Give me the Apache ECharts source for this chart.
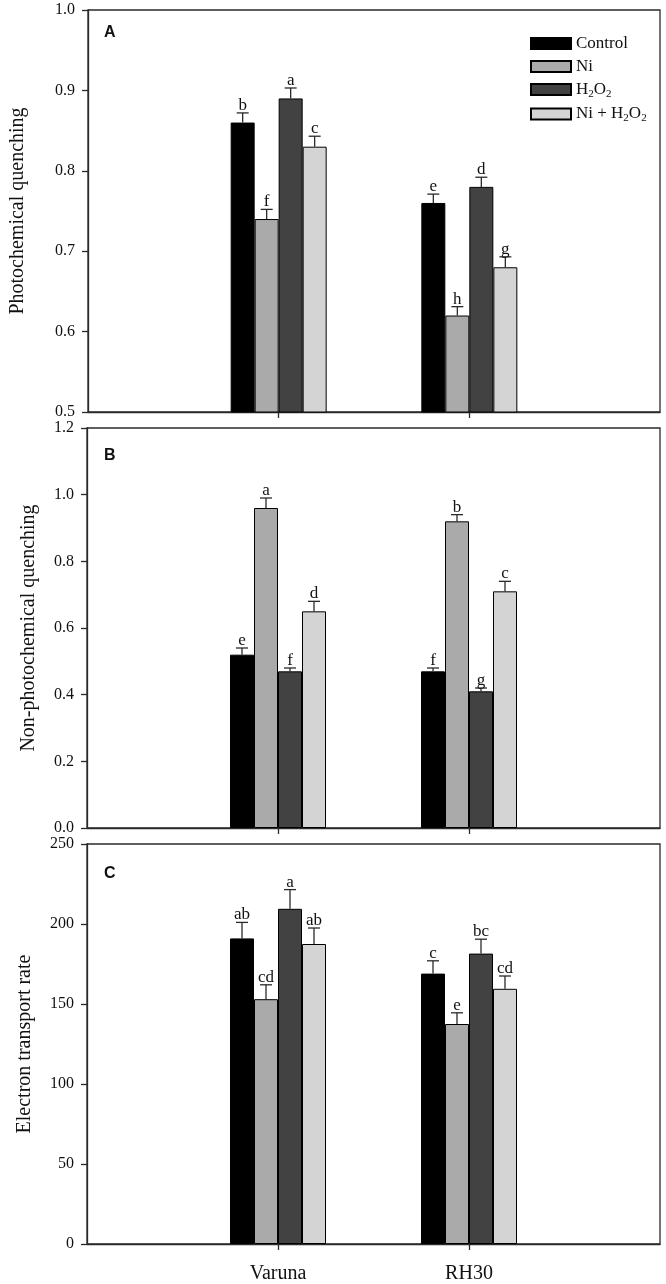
<!DOCTYPE html>
<html style="height: 100%">
<head>
  <meta charset="UTF-8" />
  <title>Photochemical quenching, NPQ and ETR</title>
  <script src="https://cdn.jsdelivr.net/npm/echarts@6/dist/echarts.min.js"></script>
  <style>
    body { margin: 0; background: #fff; }
    #main { width: 666px; height: 1284px; }
  </style>
</head>
<body>
  <div id="main"></div>
  <script>
    // categories (empty ends keep the two cultivars at 1/3 and 2/3 of the axis)
    const cultivars = ['', 'Varuna', 'RH30', ''];
    const treatments = ['Control', 'Ni', 'H2O2', 'Ni + H2O2'];
    const barColors = ['#000000', '#aaaaaa', '#424242', '#d4d4d4'];

    // panel A: photochemical quenching, rows = treatments, cols = Varuna, RH30
    const qpMean = [[0.86, 0.76], [0.74, 0.62], [0.89, 0.78], [0.83, 0.68]];
    const qpErr = [[0.012, 0.011], [0.012, 0.011], [0.013, 0.012], [0.013, 0.013]];
    const qpLetters = [['b', 'e'], ['f', 'h'], ['a', 'd'], ['c', 'g']];

    // panel B: non-photochemical quenching
    const npqMean = [[0.52, 0.47], [0.96, 0.92], [0.47, 0.41], [0.65, 0.71]];
    const npqErr = [[0.02, 0.01], [0.03, 0.02], [0.01, 0.01], [0.03, 0.03]];
    const npqLetters = [['e', 'f'], ['a', 'b'], ['f', 'g'], ['d', 'c']];

    // panel C: electron transport rate
    const etrMean = [[191, 169], [153, 137.5], [209.5, 181.5], [187.5, 159.5]];
    const etrErr = [[10, 8], [9, 7], [12, 9], [10, 8]];
    const etrLetters = [['ab', 'c'], ['cd', 'e'], ['a', 'bc'], ['ab', 'cd']];

    const serif = "'Liberation Serif', 'Times New Roman', serif";
    const barW = 24;
    const lineColor = '#2a2a2a';

    let chart = echarts.init(document.getElementById('main'));

    const grids = [
      { left: 87, right: 6, top: 10, height: 402 },
      { left: 87, right: 6, top: 428, height: 400 },
      { left: 87, right: 6, top: 844, height: 401 }
    ].map(g => Object.assign(g, { show: true, borderColor: lineColor, borderWidth: 1.3 }));

    const showTick = (i, v) => v !== '';

    function xAxis(idx, labels) {
      return {
        type: 'category', gridIndex: idx, data: cultivars, boundaryGap: false,
        axisLine: { lineStyle: { color: lineColor, width: 1.3 } },
        axisTick: { interval: showTick, length: 6, lineStyle: { color: lineColor, width: 1.3 } },
        axisLabel: {
          show: labels, interval: showTick, margin: 20,
          fontFamily: serif, fontSize: 20, color: '#111'
        },
        splitLine: { show: false }
      };
    }

    function yAxis(idx, name, min, max, interval, digits, gap) {
      return {
        type: 'value', gridIndex: idx, min: min, max: max, interval: interval,
        name: name, nameLocation: 'middle', nameGap: gap,
        nameTextStyle: { fontFamily: serif, fontSize: 20, color: '#111' },
        axisLine: { show: true, lineStyle: { color: lineColor, width: 1.3 } },
        axisTick: { show: true, length: 6, lineStyle: { color: lineColor, width: 1.3 } },
        axisLabel: {
          margin: 13, fontFamily: serif, fontSize: 16, color: '#111',
          formatter: v => v.toFixed(digits)
        },
        splitLine: { show: false }
      };
    }

    const panels = [
      { mean: qpMean, err: qpErr, letters: qpLetters },
      { mean: npqMean, err: npqErr, letters: npqLetters },
      { mean: etrMean, err: etrErr, letters: etrLetters }
    ];

    let series = [];
    panels.forEach((p, pi) => {
      treatments.forEach((t, ti) => {
        series.push({
          name: t, type: 'bar', xAxisIndex: pi, yAxisIndex: pi,
          barWidth: barW, barGap: '0%',
          data: [null, p.mean[ti][0], p.mean[ti][1], null],
          itemStyle: { color: barColors[ti], borderColor: '#000', borderWidth: 1 },
          emphasis: { disabled: true },
          animation: false
        });
      });
      treatments.forEach((t, ti) => {
        const offset = (ti - 1.5) * barW;
        const letters = p.letters[ti];
        series.push({
          type: 'custom', xAxisIndex: pi, yAxisIndex: pi, z: 5,
          data: [[1, p.mean[ti][0], p.err[ti][0]], [2, p.mean[ti][1], p.err[ti][1]]],
          renderItem: function (params, api) {
            const base = api.coord([api.value(0), api.value(1)]);
            const top = api.coord([api.value(0), api.value(1) + api.value(2)]);
            const cx = base[0] + offset;
            const st = { stroke: lineColor, lineWidth: 1.3 };
            return {
              type: 'group',
              children: [
                { type: 'line', shape: { x1: cx, y1: base[1], x2: cx, y2: top[1] }, style: st },
                { type: 'line', shape: { x1: cx - 6, y1: top[1], x2: cx + 6, y2: top[1] }, style: st },
                {
                  type: 'text', x: cx, y: top[1] + 1,
                  style: {
                    text: letters[params.dataIndex], fill: '#111',
                    font: '17px ' + serif, textAlign: 'center', textVerticalAlign: 'bottom'
                  }
                }
              ]
            };
          },
          animation: false
        });
      });
    });

    const richText = {
      n: { fontFamily: serif, fontSize: 17, color: '#111', lineHeight: 20 },
      sub: { fontFamily: serif, fontSize: 11, color: '#111', lineHeight: 12, verticalAlign: 'bottom' }
    };

    chart.setOption({
      animation: false,
      title: [
        { text: 'A', left: 104, top: 25 },
        { text: 'B', left: 104, top: 448 },
        { text: 'C', left: 104, top: 866 }
      ].map(t => Object.assign(t, {
        padding: 0,
        textStyle: { fontFamily: "'Liberation Sans', Arial, sans-serif", fontWeight: 'bold', fontSize: 16, color: '#111' }
      })),
      legend: {
        data: treatments, orient: 'vertical', left: 525, top: 30,
        itemWidth: 40, itemHeight: 11, itemGap: 6,
        icon: 'rect', selectedMode: false,
        formatter: function (name) {
          if (name === 'H2O2') return '{n|H}{sub|2}{n|O}{sub|2}';
          if (name === 'Ni + H2O2') return '{n|Ni + H}{sub|2}{n|O}{sub|2}';
          return '{n|' + name + '}';
        },
        textStyle: { rich: richText }
      },
      grid: grids,
      xAxis: [xAxis(0, false), xAxis(1, false), xAxis(2, true)],
      yAxis: [
        yAxis(0, 'Photochemical quenching', 0.5, 1.0, 0.1, 1, 60),
        yAxis(1, 'Non-photochemical quenching', 0, 1.2, 0.2, 1, 48),
        yAxis(2, 'Electron transport rate', 0, 250, 50, 0, 52)
      ],
      series: series
    });
  </script>
</body>
</html>
